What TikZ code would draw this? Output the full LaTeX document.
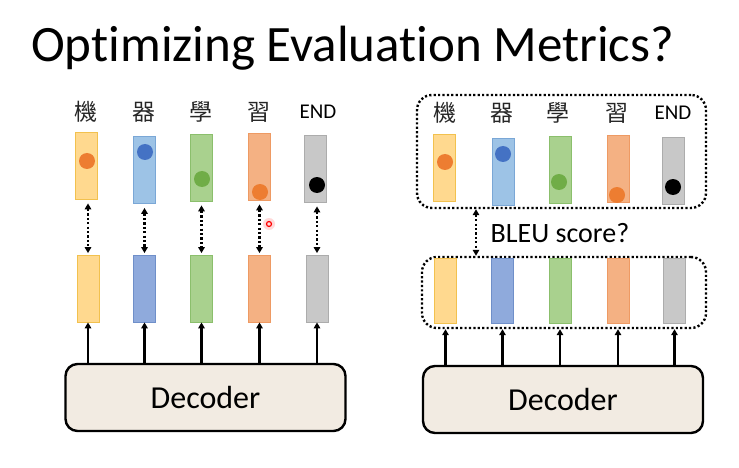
\documentclass[tikz,border=0pt]{standalone}
\usepackage{fontspec}
\setmainfont{Carlito}[Ligatures={NoCommon}]
\newfontfamily\cjk{Noto Sans CJK TC}
\usetikzlibrary{arrows.meta}
\definecolor{yF}{HTML}{FFD98F}\definecolor{yD}{HTML}{F2C14E}
\definecolor{bF}{HTML}{9DC3E6}\definecolor{bD}{HTML}{7AA7D6}
\definecolor{bbF}{HTML}{8FAADC}\definecolor{bbD}{HTML}{6F8FC9}
\definecolor{gF}{HTML}{A9D18E}\definecolor{gD}{HTML}{8BBF6C}
\definecolor{oF}{HTML}{F4B183}\definecolor{oD}{HTML}{EE9A63}
\definecolor{grF}{HTML}{C8C8C8}\definecolor{grD}{HTML}{ACACAC}
\definecolor{decF}{HTML}{F2EBE2}
\definecolor{dotO}{HTML}{ED7D31}\definecolor{dotB}{HTML}{4472C4}\definecolor{dotG}{HTML}{70AD47}
\tikzset{
  bar/.style={draw=#1D, fill=#1F, line width=0.8pt, inner sep=0pt, minimum width=22pt, minimum height=67pt},
  ball/.style={circle, fill=#1, inner sep=0pt, minimum size=16pt},
  lab/.style={font=\cjk\fontsize{23}{23}\selectfont, text=black!85, inner sep=0pt},
  endlab/.style={font=\fontsize{21}{21}\selectfont, inner sep=0pt},
  dec/.style={draw, line width=2.4pt, fill=decF, rounded corners=12pt, minimum width=280pt, minimum height=67pt, font=\fontsize{32}{32}\selectfont},
  dotarrow/.style={line width=2.2pt, dash pattern=on 2.2pt off 2.2pt, {Triangle[length=6pt,width=6.5pt]}-{Triangle[length=6pt,width=6.5pt]}},
  uparrow/.style={line width=2.2pt, -{Triangle[length=6pt,width=6.5pt]}},
  dotbox/.style={draw, line width=2.4pt, dash pattern=on 2.2pt off 2.2pt, rounded corners=15pt, inner sep=0pt}
}
\begin{document}
\begin{tikzpicture}[x=1pt,y=-1pt]
\useasboundingbox (0,0) rectangle (739,468);
\node[anchor=base west, inner sep=0pt, font=\fontsize{51}{51}\selectfont] (title) at (31,62) {Optimizing Evaluation Metrics?};

% ---------- left panel ----------
\node[lab] (l1) at (86,112) {機};
\node[lab] (l2) at (144,112) {器};
\node[lab] (l3) at (201,112) {學};
\node[lab] (l4) at (259,112) {習};
\node[endlab] (l5) at (318,112) {END};

\node[bar=y] (lt1) at (86.5,165.5) {};
\node[bar=b] (lt2) at (144.5,170) {};
\node[bar=g] (lt3) at (201.5,167.5) {};
\node[bar=o] (lt4) at (259.5,166.5) {};
\node[bar=gr] (lt5) at (315.5,168.5) {};

\node[ball=dotO] (ld1) at (87,161) {};
\node[ball=dotB] (ld2) at (145,152) {};
\node[ball=dotG] (ld3) at (202,179) {};
\node[ball=dotO] (ld4) at (260,192) {};
\node[ball=black] (ld5) at (317,185) {};

\node[bar=y] (lb1) at (88,288.5) {};
\node[bar=bb] (lb2) at (144.5,288.5) {};
\node[bar=g] (lb3) at (201.5,288.5) {};
\node[bar=o] (lb4) at (259.5,288.5) {};
\node[bar=gr] (lb5) at (317,288.5) {};

\foreach \i in {1,...,5}{
  \draw[dotarrow, shorten <=4pt, shorten >=1.5pt] (lb\i.north |- lt\i.south) -- (lb\i.north);
}

\node[dec] (ldec) at (205.5,397.5) {Decoder};
\foreach \i in {1,...,5}{
  \draw[uparrow] (lb\i.south |- ldec.north) -- (lb\i.south);
}

% laser pointer mark
\fill[red!25, opacity=0.6] (269,224) circle (6pt);
\draw[red, line width=1.2pt] (269,224) circle (2.5pt);

% ---------- right panel ----------
\node[dotbox, minimum width=289pt, minimum height=113pt] (topbox) at (561.5,151.5) {};
\node[dotbox, minimum width=284pt, minimum height=71pt] (botbox) at (564,292.5) {};

\node[lab] (r1) at (445,113) {機};
\node[lab] (r2) at (502,113) {器};
\node[lab] (r3) at (558,113) {學};
\node[lab] (r4) at (617,113) {習};
\node[endlab] (r5) at (673,113) {END};

\node[bar=y] (rt1) at (444.5,167.5) {};
\node[bar=b] (rt2) at (503,172) {};
\node[bar=g] (rt3) at (560,169.5) {};
\node[bar=o] (rt4) at (618,168.5) {};
\node[bar=gr] (rt5) at (673.5,170.5) {};

\node[ball=dotO] (rd1) at (445,162) {};
\node[ball=dotB] (rd2) at (503,154) {};
\node[ball=dotG] (rd3) at (559,182) {};
\node[ball=dotO] (rd4) at (617,195) {};
\node[ball=black] (rd5) at (673,187) {};

\node[bar=y, minimum height=65pt] (rb1) at (445.5,290.5) {};
\node[bar=bb, minimum height=65pt] (rb2) at (502.5,290.5) {};
\node[bar=g, minimum height=65pt] (rb3) at (560,290.5) {};
\node[bar=o, minimum height=65pt] (rb4) at (618,290.5) {};
\node[bar=gr, minimum height=65pt] (rb5) at (674.5,290.5) {};

\coordinate (bx) at (476,0);
\draw[dotarrow] (topbox.south -| bx) -- (botbox.north -| bx);
\node[inner sep=0pt, font=\fontsize{28}{28}\selectfont] (bleu) at (560,233) {BLEU score?};

\node[dec] (rdec) at (563,399.5) {Decoder};
\foreach \i in {1,...,5}{
  \draw[uparrow] (rb\i.south |- rdec.north) -- (rb\i.south |- botbox.south);
}
\end{tikzpicture}
\end{document}
